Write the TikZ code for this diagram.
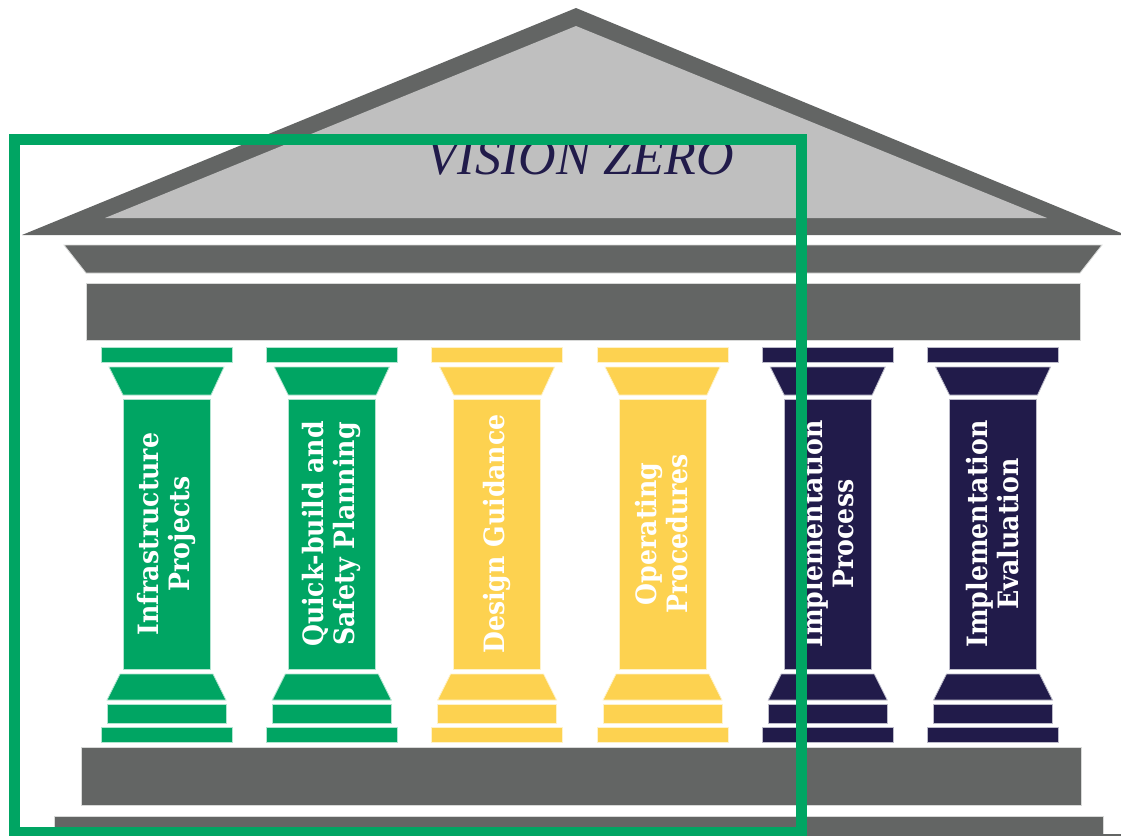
\documentclass[tikz,border=0pt]{standalone}
\usepackage{fontspec}
\setmainfont{DejaVu Serif}
\newfontfamily\slabfont{DejaVu Serif}[FakeStretch=0.9]
\newfontfamily\titlefont{Liberation Serif}
\usetikzlibrary{positioning}
\definecolor{stonedark}{HTML}{636564}
\definecolor{stonelight}{HTML}{BFBFBF}
\definecolor{vzgreen}{HTML}{00A563}
\definecolor{vzyellow}{HTML}{FDD250}
\definecolor{vznavy}{HTML}{211B4A}

\begin{document}
\begin{tikzpicture}[x=0.5pt, y=-0.5pt,
  stone/.style={fill=stonedark, draw=white!75!stonedark, line width=0.4pt},
  pc/.style={fill=#1, draw=white!70!#1, line width=0.4pt},
  pillartext/.style={rotate=90, text=white, align=center,
    font=\slabfont\bfseries\fontsize{14}{15.5}\selectfont}]
  \useasboundingbox (0,0) rectangle (1121,836);
  % roof (pediment)
  \fill[stonedark] (22,235) -- (576,8) -- (1121,233) -- (1121,235) -- cycle;
  \fill[stonelight] (105,218) -- (576,26) -- (1047,218) -- cycle;
  \node[anchor=base, text=vznavy, font=\titlefont\itshape\fontsize{26}{26}\selectfont]
    (title) at (580,174) {VISION ZERO};
  % entablature and architrave
  \path[stone] (64,245) -- (1102,245) -- (1080,273) -- (86,273) -- cycle;
  \path[stone] (86,283) rectangle (1080,340);
  % six pillars: capital, shaft, base
  \foreach \cx/\col/\txt [count=\i] in {166/vzgreen/{Infrastructure\\Projects},
      331.3/vzgreen/{Quick-build and\\Safety Planning},
      496.6/vzyellow/{Design Guidance},
      662/vzyellow/{Operating\\Procedures},
      827.2/vznavy/{Implementation\\Process},
      992.5/vznavy/{Implementation\\Evaluation}}{
    \begin{scope}[shift={(\cx,0)}]
      \path[pc=\col] (-65,347) rectangle (66,362);
      \path[pc=\col] (-57,367) -- (58,367) -- (45,395) -- (-43,395) -- cycle;
      \path[pc=\col] (-43,399) rectangle (44,669);
      \path[pc=\col] (-46,674) -- (47,674) -- (60,700) -- (-59,700) -- cycle;
      \path[pc=\col] (-59,704) rectangle (60,723);
      \path[pc=\col] (-65,727) rectangle (66,742);
    \end{scope}
    \node[pillartext] (lbl\i) at (\cx,534) {\txt};
  }
  % stylobate and step
  \path[stone] (81,747) rectangle (1081,805);
  \path[stone] (54,816) rectangle (1103,840);
  \draw[stonedark, line width=0.6pt] (1103,835) -- (1121,835);
  % green highlight frame
  \draw[vzgreen, line width=5.5pt] (14,139) rectangle (801,832);
\end{tikzpicture}
\end{document}
